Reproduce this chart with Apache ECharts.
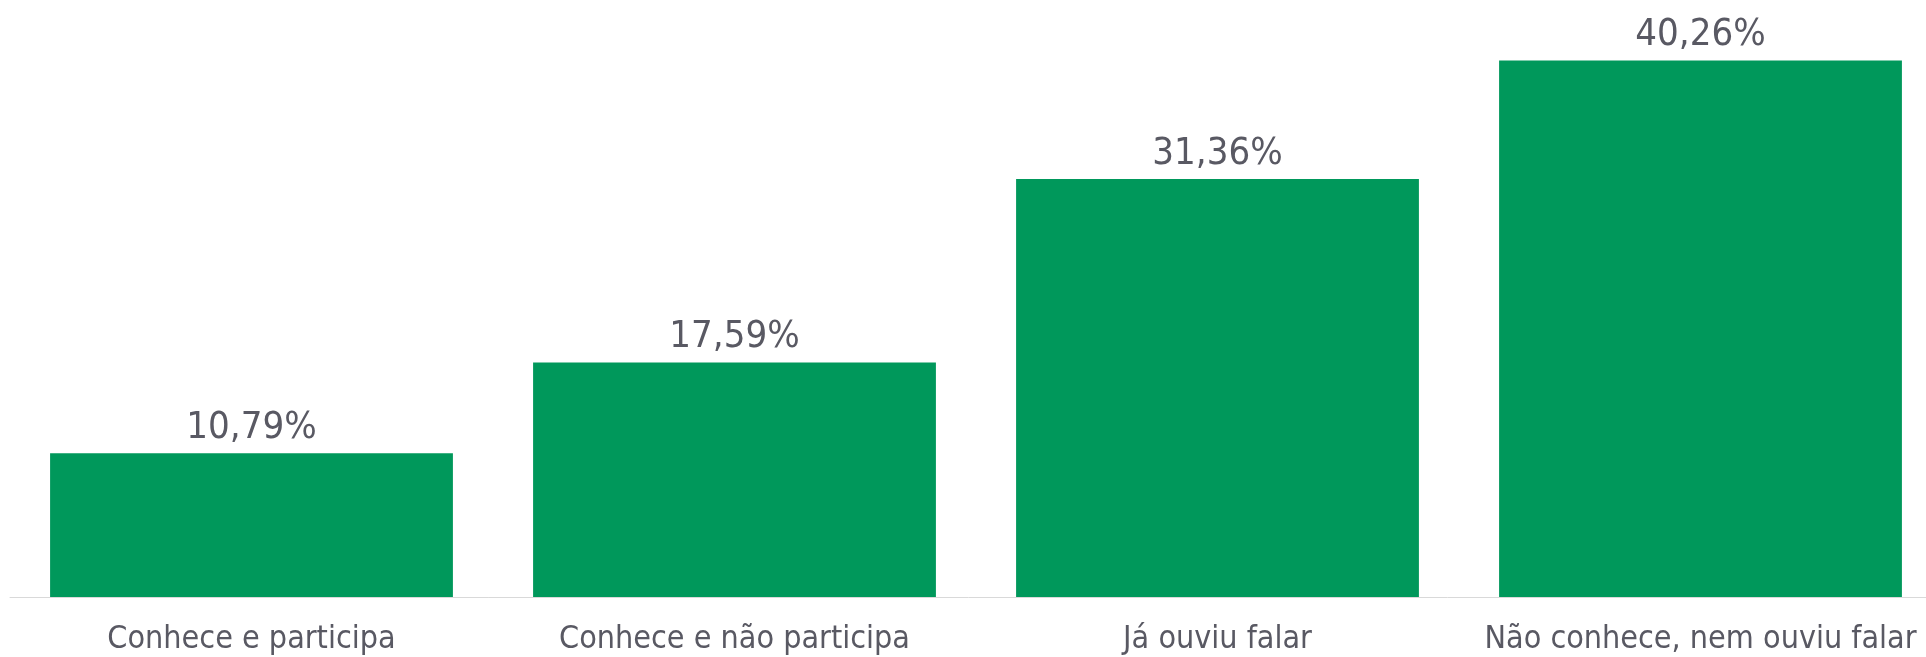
<!DOCTYPE html>
<html>
<head>
<meta charset="utf-8">
<script src="https://cdn.jsdelivr.net/npm/echarts@6/dist/echarts.min.js"></script>
<style>
html, body { margin: 0; padding: 0; background: #ffffff; }
#main { width: 1926px; height: 657px; }
</style>
</head>
<body>
<div id="main"></div>
<script>
var categorias = ['Conhece e participa', 'Conhece e não participa', 'Já ouviu falar', 'Não conhece, nem ouviu falar'];
var valores = [10.79, 17.59, 31.36, 40.26];

var fonte = "'DejaVu Sans Condensed', 'DejaVu Sans', sans-serif";
var corTexto = '#595963';

var dom = document.getElementById('main');
var myChart = echarts.init(dom);
var option = {
    animation: false,
    grid: {
        left: 10,
        width: 1932,
        top: 0,
        bottom: 60,
        containLabel: false,
        outerBoundsMode: 'none'
    },
    xAxis: {
        type: 'category',
        data: categorias,
        axisLine: { lineStyle: { color: '#d9d9d9', width: 1 } },
        axisTick: { show: false },
        axisLabel: {
            color: corTexto,
            fontFamily: fonte,
            fontSize: 32,
            margin: 27,
            interval: 0
        }
    },
    yAxis: {
        type: 'value',
        min: 0,
        max: 44.8,
        show: false,
        splitLine: { show: false }
    },
    series: [
        {
            type: 'bar',
            data: valores,
            barCategoryGap: '16.6%',
            itemStyle: { color: '#00985b' },
            label: {
                show: true,
                position: 'top',
                distance: 6,
                color: corTexto,
                fontFamily: fonte,
                fontSize: 38,
                formatter: function (p) {
                    return p.value.toFixed(2).replace('.', ',') + '%';
                }
            }
        }
    ]
};
myChart.setOption(option);
</script>
</body>
</html>
